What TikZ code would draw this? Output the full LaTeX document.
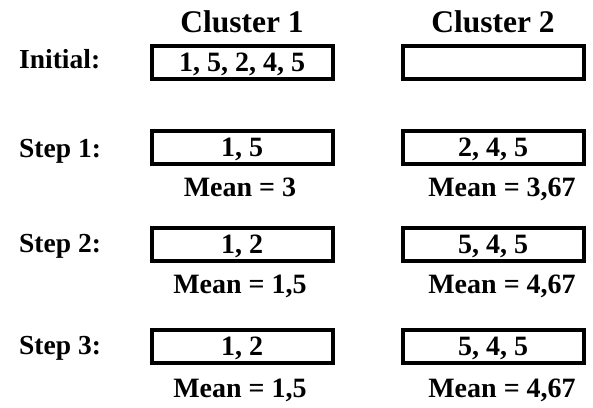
\documentclass[tikz,border=0pt]{standalone}
\usepackage{fontspec}
\setmainfont{Liberation Serif}
\begin{document}
\begin{tikzpicture}[x=1pt,y=-1pt]
    % Styles
    \tikzstyle{titre}=[font=\fontsize{31.5}{33}\selectfont\bfseries, anchor=base, inner sep=0pt]
    \tikzstyle{etape}=[font=\fontsize{27.5}{30}\selectfont\bfseries, anchor=base west, inner sep=0pt]
    \tikzstyle{boite}=[draw, line width=4pt, minimum width=181pt, minimum height=33pt, inner sep=0pt, text depth=0pt, font=\fontsize{28}{30}\selectfont\bfseries]
    \tikzstyle{moyenne}=[font=\fontsize{28}{30}\selectfont\bfseries, anchor=base, inner sep=0pt]
    % Dimensions
    \def\ColonneA{242}
    \def\ColonneB{493}
    \def\MoyenneA{240}
    \def\MoyenneB{502}
    \useasboundingbox (0,0) rectangle (593,407);
    % Titres
    \node[titre] (C1) at (\ColonneA,32) {Cluster 1};
    \node[titre] (C2) at (\ColonneB,32) {Cluster 2};
    % Initial
    \node[etape] (E0) at (19,68) {Initial:};
    \node[boite] (B0a) at (\ColonneA,62.5) {1, 5, 2, 4, 5};
    \node[boite] (B0b) at (\ColonneB,62.5) {};
    % Step 1
    \node[etape] (E1) at (19,157) {Step 1:};
    \node[boite] (B1a) at (\ColonneA,147.5) {1, 5};
    \node[boite] (B1b) at (\ColonneB,147.5) {2, 4, 5};
    \node[moyenne] (M1a) at (\MoyenneA,196) {Mean = 3};
    \node[moyenne] (M1b) at (\MoyenneB,196) {Mean = 3,67};
    % Step 2
    \node[etape] (E2) at (19,252) {Step 2:};
    \node[boite] (B2a) at (\ColonneA,244.5) {1, 2};
    \node[boite] (B2b) at (\ColonneB,244.5) {5, 4, 5};
    \node[moyenne] (M2a) at (\MoyenneA,293) {Mean = 1,5};
    \node[moyenne] (M2b) at (\MoyenneB,293) {Mean = 4,67};
    % Step 3
    \node[etape] (E3) at (19,354) {Step 3:};
    \node[boite] (B3a) at (\ColonneA,346.5) {1, 2};
    \node[boite] (B3b) at (\ColonneB,346.5) {5, 4, 5};
    \node[moyenne] (M3a) at (\MoyenneA,397) {Mean = 1,5};
    \node[moyenne] (M3b) at (\MoyenneB,397) {Mean = 4,67};
\end{tikzpicture}
\end{document}
